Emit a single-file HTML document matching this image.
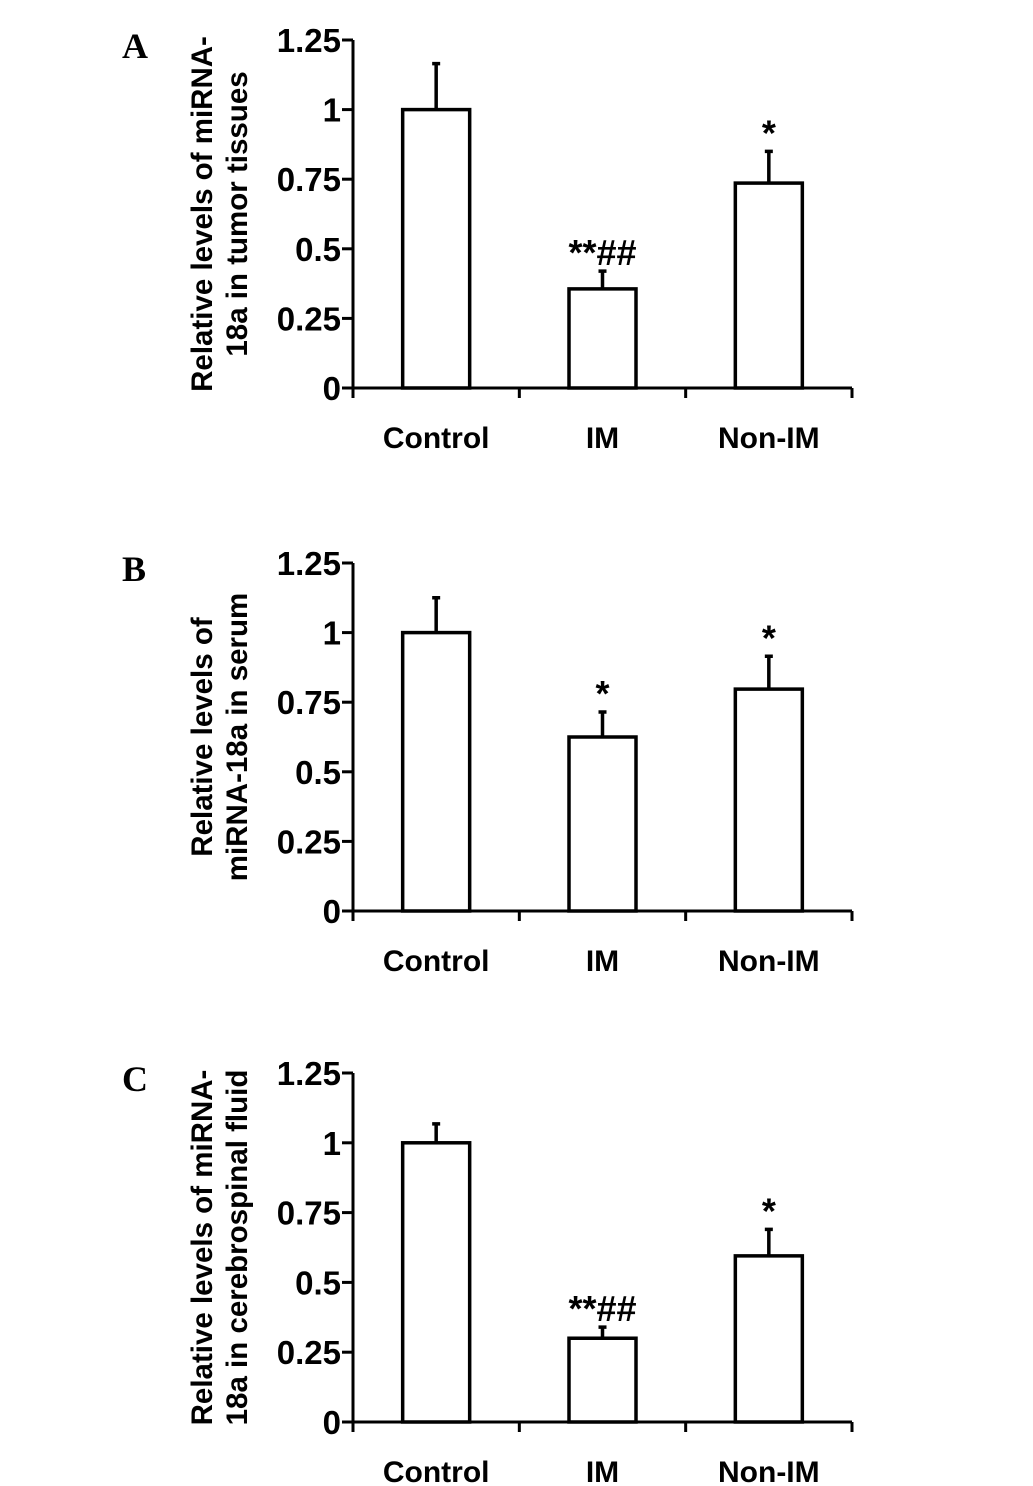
<!DOCTYPE html>
<html><head><meta charset="utf-8">
<style>
body{margin:0;background:#fff;}
svg{display:block;}
text{font-family:"Liberation Sans",Arial,sans-serif;fill:#000;}
.pl{font-family:"Liberation Serif",serif;font-weight:bold;font-size:36px;}
</style></head>
<body>
<svg id="chart" width="1033" height="1486" viewBox="0 0 1033 1486" xmlns="http://www.w3.org/2000/svg"></svg>
<script>
const categories = ["Control","IM","Non-IM"];
const yTicks = [0,0.25,0.5,0.75,1,1.25];
const tickLabels = ["0","0.25","0.5","0.75","1","1.25"];
const panelLetters = ["A","B","C"];
const valuesA = [1.0,0.356,0.736];
const errorsA = [0.165,0.064,0.114];
const marksA = ["","**##","*"];
const valuesB = [1.0,0.625,0.797];
const errorsB = [0.125,0.09,0.118];
const marksB = ["","*","*"];
const valuesC = [1.0,0.30,0.595];
const errorsC = [0.068,0.04,0.095];
const marksC = ["","**##","*"];
const titlesA = ["Relative levels of miRNA-","18a in tumor tissues"];
const titlesB = ["Relative levels of","miRNA-18a in serum"];
const titlesC = ["Relative levels of miRNA-","18a in cerebrospinal fluid"];

const svg = document.getElementById('chart');
const NS = "http://www.w3.org/2000/svg";
function mk(tag, attrs, parent){const e=document.createElementNS(NS,tag);for(const k in attrs)e.setAttribute(k,attrs[k]);parent.appendChild(e);return e;}

function panel(idx, top0, topMax, values, errors, marks, titles){
  const g = mk('g',{},svg);
  
  
  const x0=353, x1=852, yMax=1.25;
  const y = v => top0 - (top0-topMax)*v/yMax;
  const catW = (x1-x0)/categories.length;
  const xc = i => x0 + catW*(i+0.5);
  const barW = 67;
  const L = mk('text',{x:122,y:topMax+18,class:'pl'},g); L.textContent=panelLetters[idx];
  
  
  const ya = mk('line',{x1:x0,y1:topMax,x2:x0,y2:top0+10,stroke:'#000','stroke-width':3},g);
  
  
  yTicks.forEach((t,i)=>{
    mk('line',{x1:x0-11,y1:y(t),x2:x0,y2:y(t),stroke:'#000','stroke-width':3},g);
    const tx=mk('text',{x:x0-12,y:y(t)+12,'text-anchor':'end','font-size':33,'font-weight':'bold'},g);
    tx.textContent=tickLabels[i];
    
    
  });
  const xa = mk('line',{x1:x0-1,y1:top0,x2:x1,y2:top0,stroke:'#000','stroke-width':3},g);
  
  
  for(let i=0;i<=categories.length;i++){
    mk('line',{x1:x0+catW*i,y1:top0,x2:x0+catW*i,y2:top0+10,stroke:'#000','stroke-width':3},g);
  }
  categories.forEach((c,i)=>{
    const t=mk('text',{x:xc(i),y:top0+60,'text-anchor':'middle','font-size':30,'font-weight':'bold'},g);
    t.textContent=c;
    
    
    const b=mk('rect',{x:xc(i)-barW/2,y:y(values[i]),width:barW,height:top0-y(values[i]),fill:'#fff',stroke:'#000','stroke-width':3.5},g);
    
    
    const eTop=y(values[i]+errors[i]);
    const e=mk('path',{d:`M${xc(i)} ${y(values[i])}V${eTop}M${xc(i)-4} ${eTop}H${xc(i)+4}`,stroke:'#000','stroke-width':3.5,fill:'none'},g);
    
    
    if(marks[i]){
      const m=mk('text',{x:xc(i),y:eTop-6,'text-anchor':'middle','font-size':36,'font-weight':'bold'},g);
      m.textContent=marks[i];
      
      
    }
  });
  const cy=(top0+topMax)/2;
  titles.forEach((s,k)=>{
    const t=mk('text',{x:0,y:0,'text-anchor':'middle','font-size':29.5,'font-weight':'bold',transform:`translate(${212+k*35},${cy}) rotate(-90)`},g);
    t.textContent=s;
    
    
  });
}
panel(0,388,40,valuesA,errorsA,marksA,titlesA);
panel(1,911,563,valuesB,errorsB,marksB,titlesB);
panel(2,1422,1073,valuesC,errorsC,marksC,titlesC);
</script>
</body></html>
